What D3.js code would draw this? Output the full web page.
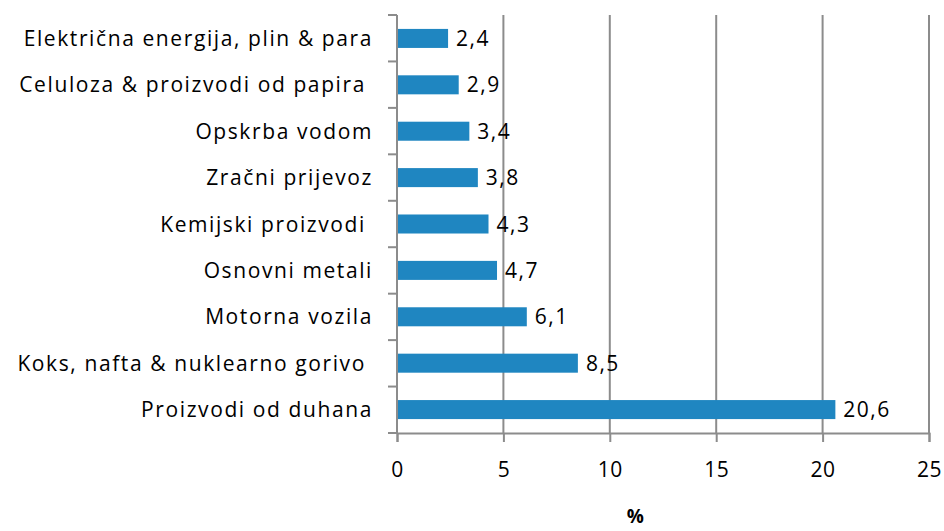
<html>
<head>
    <meta charset="utf-8">
    <style>
        body { margin: 0; background: #fff; }
        text { font-family: "Open Sans", Lato, sans-serif; fill: #000; }
    </style>
    <script src="https://d3js.org/d3.v7.min.js"></script>
</head>
<body>
    <svg width="944" height="531"></svg>
    <script>
        // values, top to bottom
        const categories = [
            "Električna energija, plin & para",
            "Celuloza & proizvodi od papira ",
            "Opskrba vodom",
            "Zračni prijevoz",
            "Kemijski proizvodi ",
            "Osnovni metali",
            "Motorna vozila",
            "Koks, nafta & nuklearno gorivo ",
            "Proizvodi od duhana"
        ];
        const values = [2.4, 2.9, 3.4, 3.8, 4.3, 4.7, 6.1, 8.5, 20.6];
        const xTicks = [0, 5, 10, 15, 20, 25];
        const xTitle = "%";

        const svg = d3.select("svg");
        const margin = { top: 15, right: 15, bottom: 98, left: 397 };
        const width = 944, height = 531;

        const x = d3.scaleLinear()
            .domain([0, 25])
            .range([margin.left, 929]);

        const y = d3.scaleBand()
            .domain(categories)
            .range([margin.top, height - margin.bottom])
            .paddingInner(0.59)
            .paddingOuter(0.3);

        const grey = "#8c8c8c";

        // vertical gridlines
        svg.append("g").selectAll("line")
            .data(xTicks.slice(1))
            .enter().append("line")
            .attr("x1", d => x(d)).attr("x2", d => x(d))
            .attr("y1", margin.top).attr("y2", height - margin.bottom)
            .attr("stroke", grey).attr("stroke-width", 2);

        // bars
        svg.append("g").selectAll("rect")
            .data(values)
            .enter().append("rect")
            .attr("x", x(0))
            .attr("y", (d, i) => y(categories[i]))
            .attr("width", d => x(d) - x(0))
            .attr("height", y.bandwidth())
            .attr("fill", "#1f86c1");

        // value labels
        svg.append("g").selectAll("text")
            .data(values)
            .enter().append("text")
            .attr("x", d => x(d) + 8)
            .attr("y", (d, i) => y(categories[i]) + y.bandwidth() / 2)
            .attr("dy", "0.36em")
            .attr("font-size", 21)
            .attr("letter-spacing", 1.5)
            .text(d => d3.format(".1f")(d).replace(".", ","));

        // bottom axis
        const xAxis = svg.append("g")
            .attr("transform", `translate(0, ${height - margin.bottom})`)
            .call(d3.axisBottom(x).tickValues(xTicks).tickSize(9).tickPadding(20));
        xAxis.select(".domain").attr("stroke", grey).attr("stroke-width", 2);
        xAxis.selectAll(".tick line").attr("stroke", grey).attr("stroke-width", 2);
        xAxis.selectAll(".tick text")
            .attr("font-family", "'Open Sans', sans-serif")
            .attr("font-size", 21).attr("letter-spacing", 0.5).attr("fill", "#000");

        // left axis with ticks between categories
        const bounds = d3.range(categories.length + 1)
            .map(i => margin.top + i * (height - margin.bottom - margin.top) / categories.length);
        const yAxis = svg.append("g");
        yAxis.append("line")
            .attr("x1", x(0)).attr("x2", x(0))
            .attr("y1", margin.top).attr("y2", height - margin.bottom)
            .attr("stroke", grey).attr("stroke-width", 2);
        yAxis.selectAll(".tk").data(bounds).enter().append("line")
            .attr("x1", x(0) - 9).attr("x2", x(0))
            .attr("y1", d => d).attr("y2", d => d)
            .attr("stroke", grey).attr("stroke-width", 2);

        yAxis.selectAll(".lab").data(categories).enter().append("text")
            .attr("x", 373)
            .attr("y", d => y(d) + y.bandwidth() / 2)
            .attr("dy", "0.36em")
            .attr("text-anchor", "end")
            .attr("font-size", 21)
            .attr("letter-spacing", 1.6)
            .style("white-space", "pre")
            .text(d => d);

        svg.append("text")
            .attr("x", x(11.2))
            .attr("y", 523)
            .attr("text-anchor", "middle")
            .attr("font-size", 19)
            .attr("font-weight", "bold")
            .text(xTitle);
    </script>
</body>
</html>
